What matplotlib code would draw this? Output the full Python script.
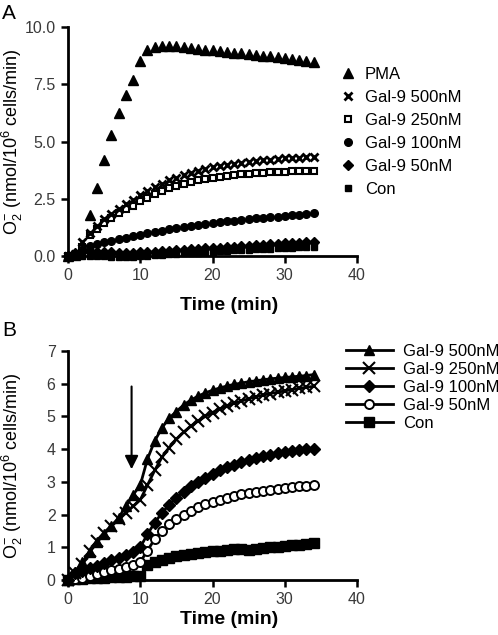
import numpy as np
import matplotlib.pyplot as plt
from matplotlib.lines import Line2D

plt.rcParams['font.family'] = ['Liberation Sans', 'DejaVu Sans']
plt.rcParams['mathtext.fontset'] = 'custom'
plt.rcParams['mathtext.rm'] = 'Liberation Sans'
plt.rcParams['mathtext.it'] = 'Liberation Sans:italic'

# sampling times (min), one reading per minute
time = np.arange(35)

# panel A: superoxide release, markers only
a_labels = ['PMA', 'Gal-9 500nM', 'Gal-9 250nM', 'Gal-9 100nM', 'Gal-9 50nM', 'Con']
a_pma = [0, 0.05, 0.35, 1.8, 2.95, 4.2, 5.3, 6.25, 7.05, 7.7, 8.5, 9.0, 9.12, 9.15, 9.17,
         9.15, 9.12, 9.1, 9.05, 9.0, 8.98, 8.95, 8.92, 8.88, 8.85, 8.82, 8.78, 8.75, 8.72,
         8.68, 8.65, 8.6, 8.57, 8.53, 8.48]
a_500 = [0, 0.1, 0.6, 1.0, 1.3, 1.6, 1.85, 2.05, 2.25, 2.45, 2.65, 2.85, 3.0, 3.15, 3.3,
         3.42, 3.53, 3.63, 3.72, 3.8, 3.87, 3.93, 3.98, 4.03, 4.07, 4.11, 4.15, 4.18, 4.21,
         4.24, 4.26, 4.28, 4.3, 4.32, 4.34]
a_250 = [0, 0.05, 0.4, 0.9, 1.2, 1.45, 1.68, 1.88, 2.05, 2.2, 2.4, 2.55, 2.7, 2.83, 2.95,
         3.05, 3.15, 3.23, 3.3, 3.36, 3.41, 3.46, 3.5, 3.53, 3.56, 3.59, 3.61, 3.63, 3.65,
         3.67, 3.68, 3.69, 3.7, 3.71, 3.72]
a_100 = [0, 0.1, 0.3, 0.42, 0.52, 0.6, 0.67, 0.74, 0.8, 0.86, 0.92, 0.99, 1.05, 1.11, 1.17,
         1.22, 1.27, 1.32, 1.37, 1.41, 1.45, 1.49, 1.52, 1.55, 1.58, 1.61, 1.64, 1.67, 1.7,
         1.72, 1.75, 1.78, 1.8, 1.83, 1.86]
a_50 = [0, 0.15, 0.2, 0.2, 0.18, 0.17, 0.16, 0.15, 0.15, 0.15, 0.16, 0.17, 0.19, 0.21, 0.23,
        0.25, 0.27, 0.29, 0.31, 0.33, 0.35, 0.37, 0.39, 0.41, 0.43, 0.45, 0.47, 0.49, 0.51,
        0.53, 0.55, 0.57, 0.58, 0.6, 0.62]
a_con = [0, 0, 0, 0, 0, -0.02, -0.04, -0.05, -0.05, -0.04, -0.02, 0.0, 0.03, 0.05, 0.07,
         0.09, 0.11, 0.13, 0.15, 0.17, 0.19, 0.21, 0.23, 0.25, 0.26, 0.28, 0.29, 0.31, 0.32,
         0.34, 0.35, 0.37, 0.38, 0.4, 0.41]

# panel B: lines with markers
b_labels = ['Gal-9 500nM', 'Gal-9 250nM', 'Gal-9 100nM', 'Gal-9 50nM', 'Con']
b_500 = [0, 0.25, 0.55, 0.85, 1.15, 1.4, 1.65, 1.9, 2.25, 2.6, 2.9, 3.7, 4.25, 4.65, 4.95,
         5.15, 5.35, 5.5, 5.62, 5.72, 5.8, 5.87, 5.93, 5.98, 6.02, 6.06, 6.09, 6.12, 6.15,
         6.17, 6.19, 6.21, 6.23, 6.25, 6.28]
b_250 = [0, 0.2, 0.5, 0.9, 1.2, 1.45, 1.65, 1.85, 2.05, 2.25, 2.45, 2.9, 3.35, 3.75, 4.05,
         4.3, 4.52, 4.7, 4.86, 5.0, 5.12, 5.23, 5.32, 5.4, 5.47, 5.54, 5.6, 5.65, 5.7,
         5.74, 5.78, 5.82, 5.86, 5.89, 5.92]
b_100 = [0, 0.2, 0.28, 0.36, 0.44, 0.52, 0.6, 0.68, 0.77, 0.87, 1.0, 1.4, 1.75, 2.05, 2.3,
         2.52, 2.7, 2.86, 3.0, 3.13, 3.25, 3.35, 3.44, 3.52, 3.6, 3.67, 3.73, 3.78, 3.83,
         3.87, 3.91, 3.94, 3.97, 3.99, 4.01]
b_50 = [0, 0.03, 0.07, 0.12, 0.18, 0.25, 0.3, 0.35, 0.4, 0.45, 0.55, 0.9, 1.25, 1.5, 1.7,
        1.87, 2.0, 2.12, 2.22, 2.31, 2.39, 2.46, 2.52, 2.57, 2.62, 2.66, 2.7, 2.73, 2.76,
        2.79, 2.82, 2.84, 2.86, 2.88, 2.9]
b_con = [0, 0.02, 0.04, 0.05, 0.06, 0.07, 0.08, 0.09, 0.1, 0.11, 0.13, 0.45, 0.55, 0.62, 0.67,
         0.72, 0.76, 0.8, 0.83, 0.86, 0.88, 0.9, 0.92, 0.94, 0.95, 0.93, 0.96, 0.98, 1.0,
         1.02, 1.04, 1.06, 1.08, 1.1, 1.12]
arrow_time = 8.8

W, H = 498, 635
fig = plt.figure(figsize=(W / 100, H / 100), dpi=100)
axA = fig.add_axes([68 / W, 1 - 256 / H, 289 / W, 229 / H])
axB = fig.add_axes([68 / W, 1 - 580 / H, 289 / W, 229 / H])

ylab = 'O$_2^{-}$ (nmol/10$^6$ cells/min)'
tick_col = '#3a3a3a'


def style(ax, ymax, yticks, fmt, xlab_y):
    ax.set_xlim(0, 40)
    ax.set_ylim(0, ymax)
    ax.set_xticks([0, 10, 20, 30, 40])
    ax.set_yticks(yticks)
    ax.set_yticklabels([fmt.format(v) for v in yticks])
    for s in ['top', 'right']:
        ax.spines[s].set_visible(False)
    for s in ['left', 'bottom']:
        ax.spines[s].set_linewidth(2)
    ax.tick_params(direction='out', length=5, width=1.8, labelsize=11.5,
                   labelcolor=tick_col, pad=4)
    ax.set_xlabel('Time (min)', fontsize=14, fontweight='bold')
    ax.xaxis.label.set_va('center')
    ax.xaxis.set_label_coords(0.557, -xlab_y / 229)
    ax.set_ylabel(ylab, fontsize=13)
    ax.yaxis.label.set_va('center')
    ax.yaxis.set_label_coords((12 - 68) / 289, 0.5)


# panel A
a_series = [a_pma, a_500, a_250, a_100, a_50, a_con]
a_style = [dict(marker='^', ms=7, mfc='black', mec='black'),
           dict(marker='x', ms=5.5, mec='black', mew=2),
           dict(marker='s', ms=5, mfc='white', mec='black', mew=1.5),
           dict(marker='o', ms=5.5, mfc='black', mec='black'),
           dict(marker='D', ms=5, mfc='black', mec='black'),
           dict(marker='s', ms=5, mfc='black', mec='black')]
for vals, st in zip(a_series[::-1], a_style[::-1]):
    axA.plot(time, vals, linestyle='none', clip_on=False, zorder=3, **st)
handlesA = [Line2D([], [], linestyle='none', label=lab, **st)
            for st, lab in zip(a_style, a_labels)]
style(axA, 10, [0, 2.5, 5, 7.5, 10], '{:.1f}', 50)
fig.legend(handles=handlesA, loc='upper left', bbox_to_anchor=(340 / W, 1 - 67 / H),
           frameon=False, fontsize=12, handlelength=1.0, handletextpad=0.5,
           labelspacing=0.48, borderpad=0, borderaxespad=0)
fig.text(2 / W, 1 - 4 / H, 'A', fontsize=15, va='top', ha='left')

# panel B
b_series = [b_500, b_250, b_100, b_50, b_con]
b_style = [dict(marker='^', ms=7.5, mfc='black', mec='black'),
           dict(marker='x', ms=8, mec='black', mew=1.5),
           dict(marker='D', ms=6, mfc='black', mec='black'),
           dict(marker='o', ms=6.5, mfc='white', mec='black', mew=1.4),
           dict(marker='s', ms=6.5, mfc='black', mec='black')]
for vals, st in zip(b_series[::-1], b_style[::-1]):
    axB.plot(time, vals, color='black', lw=2, clip_on=False, zorder=3, **st)
handlesB = [Line2D([], [], color='black', lw=2, label=lab, **st)
            for st, lab in zip(b_style, b_labels)]
style(axB, 7, list(range(8)), '{:d}', 40)
axB.annotate('', xy=(arrow_time, 3.3), xytext=(arrow_time, 6.0),
             arrowprops=dict(arrowstyle='-|>', lw=1.5, color='black', mutation_scale=20))
fig.legend(handles=handlesB, loc='upper left', bbox_to_anchor=(346 / W, 1 - 344 / H),
           frameon=False, fontsize=12, handlelength=2.8, handletextpad=0.6,
           labelspacing=0.18, borderpad=0, borderaxespad=0)
fig.text(2 / W, 1 - 321 / H, 'B', fontsize=15, va='top', ha='left')

fig.savefig('out.png', dpi=100)
